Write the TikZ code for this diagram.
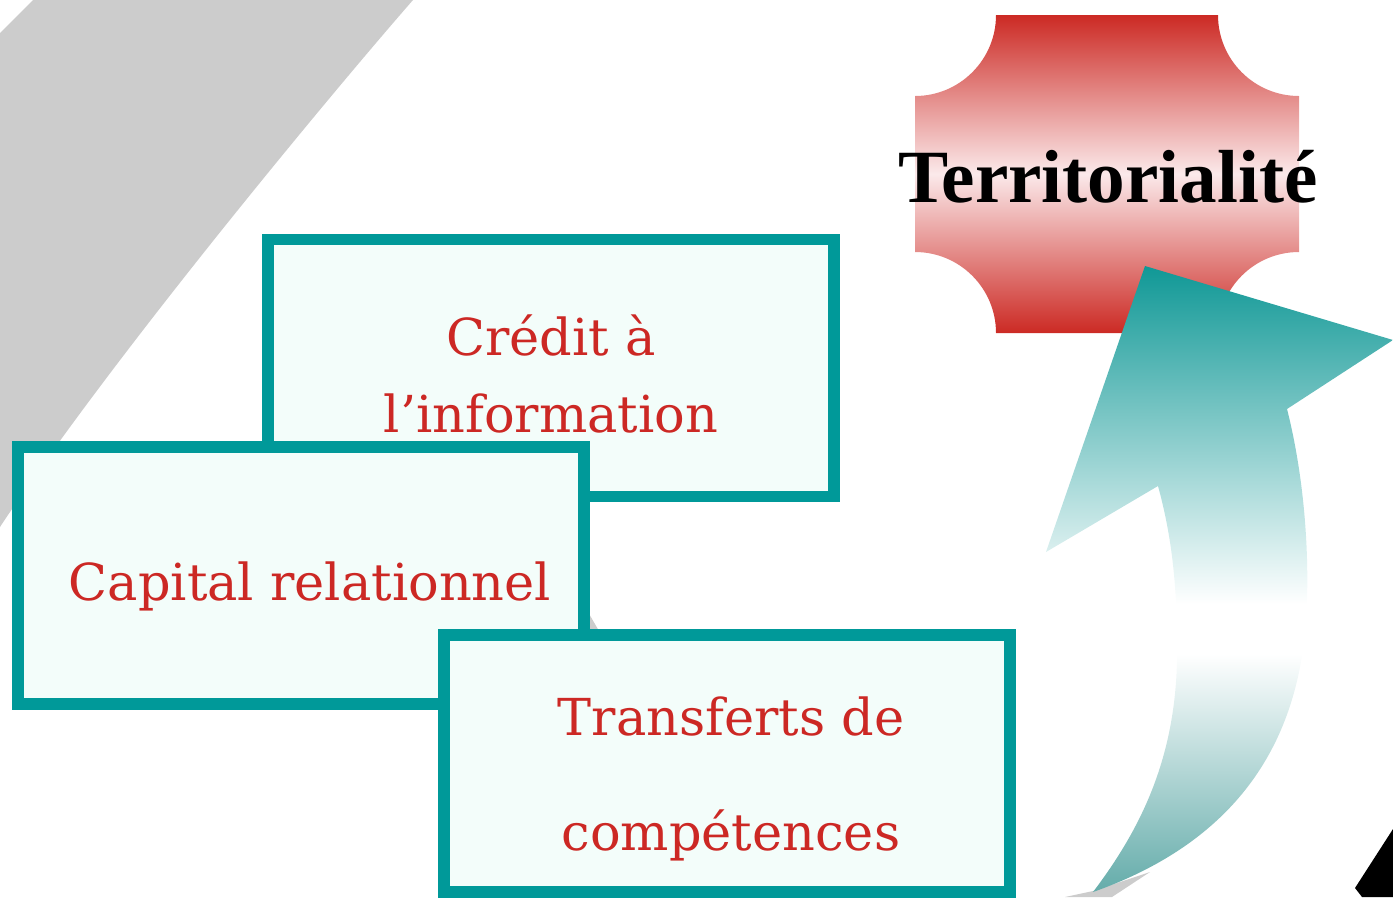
\documentclass[tikz,border=0pt]{standalone}
\usepackage{fontspec}
\usepackage{tikz}
\setmainfont{Liberation Serif}
\newfontfamily\boxfont{DejaVu Serif}
\newfontfamily\titlefont{Liberation Serif}
\definecolor{boxteal}{RGB}{0,153,153}
\definecolor{boxred}{RGB}{204,40,36}
\definecolor{boxfill}{RGB}{243,253,250}
\definecolor{bandgray}{RGB}{204,204,204}
\definecolor{redtop}{RGB}{204,42,36}
\definecolor{redmid}{RGB}{251,233,234}
\definecolor{arrowtop}{RGB}{16,152,150}
\definecolor{arrowbot}{RGB}{100,172,170}
\pgfdeclareverticalshading{redband}{100bp}{color(0bp)=(redtop); color(25bp)=(redtop); color(50bp)=(redmid); color(75bp)=(redtop); color(100bp)=(redtop)}
\pgfdeclareverticalshading{arrowband}{100bp}{color(0bp)=(arrowbot); color(25bp)=(arrowbot); color(44bp)=(white); color(48bp)=(white); color(75bp)=(arrowtop); color(100bp)=(arrowtop)}

\begin{document}
\begin{tikzpicture}[x=0.02cm,y=0.02cm,yscale=-1]
        \useasboundingbox (0,0) rectangle (1393,897);

        \fill[bandgray] (33,0) -- (413,0) .. controls (330,95) and (110,360) .. (0,527) -- (0,33) -- cycle;
        \fill[bandgray] (588,612) -- (599,631) -- (588,631) -- cycle;
        \fill[bandgray] (1065,897) -- (1093,891) -- (1150,872) -- (1112,897) -- cycle;
        \fill[black] (1355,888) -- (1393,829) -- (1393,897) -- (1362,897) -- cycle;

        \shade[shading=redband] (996,15) -- (1218,15) arc[start angle=180,end angle=90,radius=81]
            -- (1299,252) arc[start angle=270,end angle=180,radius=81]
            -- (996,333) arc[start angle=0,end angle=-90,radius=81]
            -- (915,96) arc[start angle=90,end angle=0,radius=81] -- cycle;
        \node[anchor=base,font=\titlefont\bfseries\fontsize{42.8}{50}\selectfont] (title) at (1108,202) {Territorialité};

        \shade[shading=arrowband] (1145,266) -- (1393,340) -- (1287,409)
            .. controls (1305,480) and (1310,560) .. (1306,620)
            .. controls (1298,740) and (1240,840) .. (1093,892)
            .. controls (1140,830) and (1175,760) .. (1177,660)
            .. controls (1178,580) and (1170,530) .. (1158,486)
            -- (1046,552) -- cycle;

        \begin{scope}[
            every node/.style={draw=boxteal,line width=6.7pt,fill=boxfill,inner sep=0pt,
                minimum width=11.32cm,minimum height=5.14cm}
        ]
            \node (credit) at (551,368) {};
            \node (capital) at (301,575.5) {};
            \node (transfert) at (727,763.5) {};
        \end{scope}
        \begin{scope}[
            every node/.style={text=boxred,align=center,anchor=base}
        ]
            \node[font=\boxfont\fontsize{29}{43.8}\selectfont] (creditlbl) at (551,432) {Crédit à\\l’information};
            \node[font=\boxfont\fontsize{29}{40}\selectfont] (capitallbl) at (310,600) {Capital relationnel};
            \node[font=\boxfont\fontsize{29}{65.4}\selectfont] (transfertlbl) at (731,850) {Transferts de\\compétences};
        \end{scope}
    \end{tikzpicture}
\end{document}
